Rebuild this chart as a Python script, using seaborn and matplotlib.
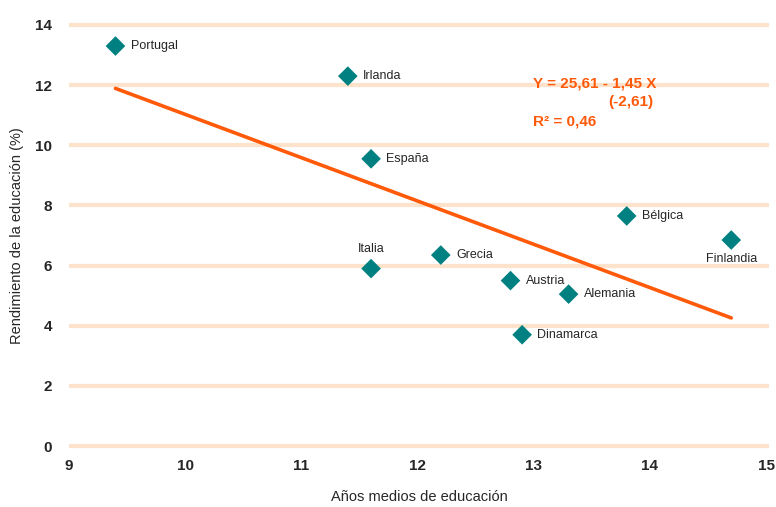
import matplotlib
matplotlib.use("Agg")
import matplotlib.pyplot as plt
import seaborn as sns
import pandas as pd

paises = ["Portugal", "Irlanda", "España", "Italia", "Grecia", "Austria",
          "Alemania", "Dinamarca", "Bélgica", "Finlandia"]
anos = [9.4, 11.4, 11.6, 11.6, 12.2, 12.8, 13.3, 12.9, 13.8, 14.7]
rendimiento = [13.3, 12.3, 9.55, 5.9, 6.35, 5.5, 5.05, 3.7, 7.65, 6.85]
x_ticks = [9, 10, 11, 12, 13, 14, 15]
y_ticks = [0, 2, 4, 6, 8, 10, 12, 14]

df = pd.DataFrame({"pais": paises, "anos": anos, "rend": rendimiento})

sns.set_style("white")
plt.rcParams["font.family"] = ["Liberation Sans", "DejaVu Sans"]

fig = plt.figure(figsize=(7.76, 5.07), dpi=100)
ax = fig.add_axes([0.0889, 0.1114, 0.9021, 0.8482])

for v in y_ticks:
    ax.axhline(v, color="#FDE3CB", lw=3.0, zorder=0)

sns.regplot(data=df, x="anos", y="rend", ax=ax, scatter=False, ci=None,
            truncate=True, line_kws=dict(color="#FF5A0A", lw=2.6, zorder=2))
sns.scatterplot(data=df, x="anos", y="rend", ax=ax, marker="D", s=100,
                color="#008080", edgecolor="none", zorder=3)

placement = {"Italia": "above", "Finlandia": "below"}
for p, xv, yv in zip(paises, anos, rendimiento):
    pos = placement.get(p, "right")
    if pos == "right":
        ax.annotate(p, (xv, yv), xytext=(11, 0), textcoords="offset points",
                    ha="left", va="center", fontsize=9)
    elif pos == "above":
        ax.annotate(p, (xv, yv), xytext=(0, 14), textcoords="offset points",
                    ha="center", va="center", fontsize=9)
    else:
        ax.annotate(p, (xv, yv), xytext=(0, -14), textcoords="offset points",
                    ha="center", va="center", fontsize=9)

orange = "#FF5A0A"
ax.text(533 / 776, 1 - 84 / 507, "Y = 25,61 - 1,45 X", transform=fig.transFigure,
        color=orange, fontsize=11, fontweight="bold", ha="left", va="center")
ax.text(608 / 776, 1 - 102 / 507, "(-2,61)", transform=fig.transFigure,
        color=orange, fontsize=11, fontweight="bold", ha="left", va="center")
ax.text(533 / 776, 1 - 122 / 507, "R² = 0,46", transform=fig.transFigure,
        color=orange, fontsize=11, fontweight="bold", ha="left", va="center")

ax.set_xlim(9, 15.025)
ax.set_ylim(-0.15, 14.15)
ax.set_xticks(x_ticks)
ax.set_yticks(y_ticks)
ax.set_xticklabels([str(t) for t in x_ticks], fontsize=11, fontweight="bold")
ax.set_yticklabels([str(t) for t in y_ticks], fontsize=11, fontweight="bold")
ax.tick_params(axis="both", length=0, pad=6)
ax.tick_params(axis="y", pad=12)
for s in ax.spines.values():
    s.set_visible(False)
ax.set_xlabel("Años medios de educación", fontsize=10.5, labelpad=12)
ax.set_ylabel("Rendimiento de la educación (%)", fontsize=10.5, labelpad=8)

fig.savefig("out.png", dpi=100)
